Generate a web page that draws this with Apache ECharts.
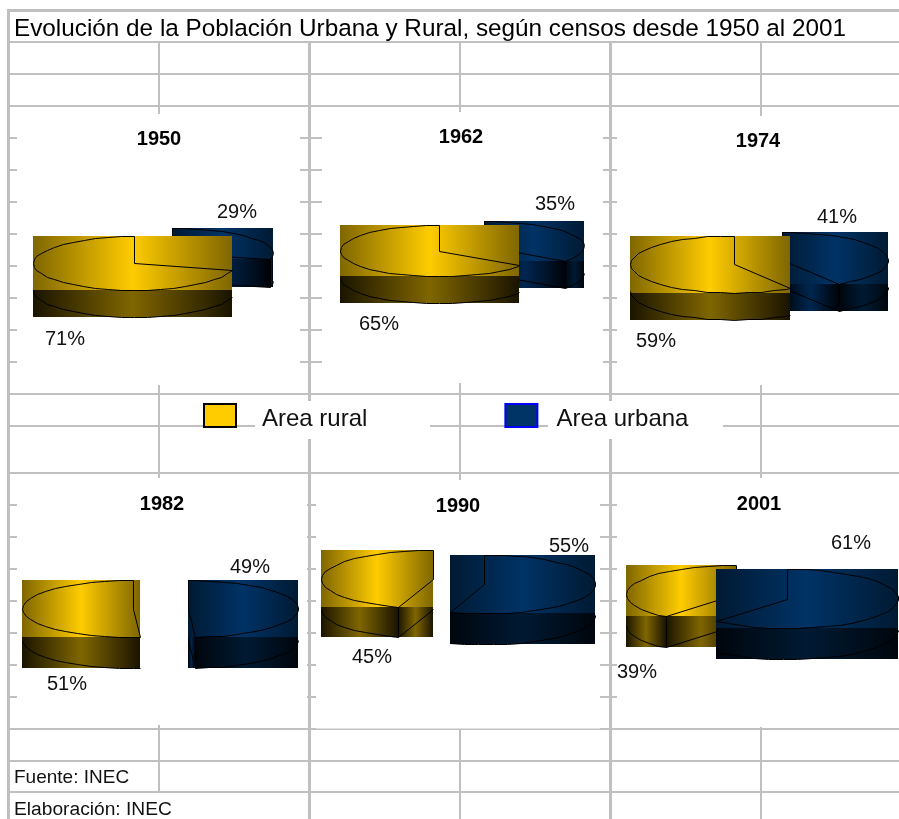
<!DOCTYPE html>
<html>
<head>
<meta charset="utf-8">
<style>html,body{margin:0;padding:0;background:#fff}#c{width:899px;height:819px}</style>
<script src="https://cdn.jsdelivr.net/npm/echarts@6/dist/echarts.min.js"></script>
</head>
<body>
<div id="c"></div>
<script>
// ---- data ----
const titleText = 'Evolución de la Población Urbana y Rural, según censos desde 1950 al 2001';
const years = ['1950', '1962', '1974', '1982', '1990', '2001'];
const ruralPct = [71, 65, 59, 51, 45, 39];
const urbanPct = [29, 35, 41, 49, 55, 61];
const seriesNames = ['Area rural', 'Area urbana'];
const footerLines = ['Fuente: INEC', 'Elaboración: INEC'];

// ---- layout (axis units), separate from the values ----
const ruralDisc = [
  {cx:134,cy:263,rx:101,ry:27,depth:27},
  {cx:439,cy:250.5,rx:99,ry:25.5,depth:27},
  {cx:734,cy:264,rx:104,ry:28.5,depth:27},
  {cx:133,cy:608.5,rx:111,ry:28.5,depth:31},
  {cx:433,cy:579,rx:112,ry:29,depth:30},
  {cx:736,cy:594,rx:110,ry:29,depth:31}
];
const urbanDisc = [
  {cx:172,cy:253,rx:101,ry:25,depth:28},
  {cx:484,cy:246,rx:100,ry:25,depth:27},
  {cx:782,cy:260,rx:106,ry:28,depth:27},
  {cx:188,cy:608.5,rx:110,ry:28.5,depth:31},
  {cx:484,cy:584,rx:111,ry:29.5,depth:31},
  {cx:787,cy:598.5,rx:111,ry:29.5,depth:31}
];
const yearLabelPos = [[159,139],[461,137],[758,141],[162,504],[458,506],[759,504]];
const ruralLabelPos = [[65,339],[379,324],[656,341],[67,684],[372,657],[637,672]];
const urbanLabelPos = [[237,212],[555,204],[837,217],[250,567],[569,546],[851,543]];
const ruralZ = [20,20,20,20,20,10];
const urbanZ = [10,10,10,10,10,20];

// ---- spreadsheet rules ----
const ruleColor = '#c0c0c0';
const rowLines = [41,73,105,137,169,201,233,265,297,329,361,393,425,472,504,536,568,600,632,664,696,728,760,791];
const colLines = [[7,3,9,819],[158,2,41,793],[308,3,41,819],[459,2,41,819],[609,3,41,819],[760,2,41,819]];
const panels = [[17,114,300,385],[322,112,603,383],[617,116,899,385],[17,478,307,725],[316,480,600,728.5],[617,478,899,727],[255,401,430,439],[548,401,723,439]];

const F = '"Liberation Sans", Arial, sans-serif';
const palette = {
  rural: {top:['#7f6600','#ffcc00'], side:['#1a1400','#806600'], cut:['#1a1400','#806600']},
  urban: {top:['#001a33','#003366'], side:['#00060d','#001a33'], cut:['#000308','#002650']}
};
function grad(pair){
  return {type:'linear',x:0,y:0,x2:1,y2:0,colorStops:[
    {offset:0,color:pair[0]},{offset:0.5,color:pair[1]},{offset:1,color:pair[0]}]};
}
function crisp(p){return [Math.round(p[0])+0.5,Math.round(p[1])+0.5];}

function makeRender(kind, discs, labelPos, zs, withYear){
  return function(params, api){
    const i = api.value(0), pct = api.value(1), f = pct/100;
    const d = discs[i], pal = palette[kind], z = zs[i];
    const pt = (deg,dy) => {
      const t = deg*Math.PI/180;
      return api.coord([d.cx+d.rx*Math.cos(t), d.cy-d.ry*Math.sin(t)+(dy||0)]);
    };
    const a1 = kind==='rural' ? 90 : 90-360*f;
    const a2 = kind==='rural' ? 90+360*f : 90;
    const apexDeg = kind==='rural' ? a2 : a1;
    const centre = api.coord([d.cx,d.cy]);
    const centreLow = api.coord([d.cx,d.cy+d.depth]);
    const arc = [];
    for(let a=a1;a<a2;a+=7.5) arc.push(pt(a));
    arc.push(pt(a2));
    const outline = [centre].concat(arc);
    const xs = outline.map(p=>p[0]), ys = outline.map(p=>p[1]);
    const L = Math.round(Math.min.apply(null,xs)), R = Math.round(Math.max.apply(null,xs));
    const T = Math.round(Math.min.apply(null,ys)), B = Math.round(Math.max.apply(null,ys));
    const kids = [];
    const rect = (x0,x1,y0,y1,pair,zz) => kids.push({type:'rect',z2:z+zz,
      shape:{x:x0,y:y0,width:Math.max(1,x1-x0),height:y1-y0},style:{fill:grad(pair)}});
    rect(L,R,T,B,pal.top,0);
    // lower visible part of the rim
    const lowStart = kind==='rural' ? 180 : Math.max(-180,a1);
    const lowEnd = kind==='rural' ? Math.min(360,a2) : 0;
    const low = [];
    for(let a=lowStart;a<lowEnd;a+=7.5) low.push(pt(a,d.depth));
    low.push(pt(lowEnd,d.depth));
    const lx = low.map(p=>p[0]), ly = low.map(p=>p[1]);
    rect(Math.round(Math.min.apply(null,lx)),Math.round(Math.max.apply(null,lx)),B,
         Math.round(Math.max.apply(null,ly)),pal.side,1);
    const lines = [];
    if(f<0.5){
      const apex = pt(apexDeg), apexLow = pt(apexDeg,d.depth);
      const x0 = Math.round(Math.min(centre[0],apex[0])), x1 = Math.round(Math.max(centre[0],apex[0]));
      rect(x0,x1,B,Math.round(Math.max(apexLow[1],centreLow[1])),pal.cut,1);
      lines.push([centreLow,apexLow]);
      lines.push([apex,apexLow]);
    }
    lines.push(low);
    kids.push({type:'polygon',z2:z+2,shape:{points:outline.map(crisp)},
      style:{fill:'none',stroke:'#000',lineWidth:1}});
    lines.forEach(l=>kids.push({type:'polyline',z2:z+2,shape:{points:l.map(crisp)},
      style:{fill:'none',stroke:'#000',lineWidth:1}}));
    const lp = api.coord(labelPos[i]);
    kids.push({type:'text',z2:40,style:{text:pct+'%',x:lp[0],y:lp[1],fill:'#111',
      font:'20px '+F,textAlign:'center',textVerticalAlign:'middle'}});
    if(withYear){
      const yp = api.coord(yearLabelPos[i]);
      kids.push({type:'text',z2:40,style:{text:years[i],x:yp[0],y:yp[1],fill:'#000',
        font:'bold 20px '+F,textAlign:'center',textVerticalAlign:'middle'}});
    }
    return {type:'group',children:kids};
  };
}

const bg = [{type:'rect',shape:{x:7,y:9,width:892,height:3},style:{fill:ruleColor},z:0}];
rowLines.forEach(y=>bg.push({type:'rect',shape:{x:7,y:y,width:892,height:2},style:{fill:ruleColor},z:0}));
colLines.forEach(c=>bg.push({type:'rect',shape:{x:c[0],y:c[2],width:c[1],height:c[3]-c[2]},style:{fill:ruleColor},z:0}));
panels.forEach(p=>bg.push({type:'rect',shape:{x:p[0],y:p[1],width:p[2]-p[0],height:p[3]-p[1]},style:{fill:'#fff'},z:1}));
bg.push({type:'text',z:1,style:{text:footerLines[0],x:14,y:778,fill:'#111',font:'19px '+F,textVerticalAlign:'middle'}});
bg.push({type:'text',z:1,style:{text:footerLines[1],x:14,y:810,fill:'#111',font:'19.2px '+F,textVerticalAlign:'middle'}});

const chart = echarts.init(document.getElementById('c'),null,{renderer:'canvas'});
chart.setOption({
  animation:false,
  backgroundColor:'#fff',
  title:{text:titleText,left:14,top:17,padding:0,textStyle:{fontFamily:F,fontSize:24.3,fontWeight:'normal',color:'#000'}},
  legend:{
    left:203,top:403,padding:0,itemWidth:32,itemHeight:23,itemGap:137,selectedMode:false,
    formatter:name => (name===seriesNames[0] ? '{a|' : '{b|') + name + '}',
    textStyle:{fontFamily:F,fontSize:24,color:'#111',rich:{
      a:{fontFamily:F,fontSize:24,color:'#111',padding:[8,0,0,21]},
      b:{fontFamily:F,fontSize:24,color:'#111',padding:[8,0,0,14]}
    }},
    data:[
      {name:seriesNames[0],icon:'rect',itemStyle:{color:'#ffcc00',borderColor:'#000',borderWidth:2}},
      {name:seriesNames[1],icon:'rect',itemStyle:{color:'#003366',borderColor:'#0000ff',borderWidth:2}}
    ]
  },
  grid:{left:0,right:0,top:0,bottom:0},
  xAxis:{type:'value',min:0,max:899,show:false},
  yAxis:{type:'value',min:0,max:819,inverse:true,show:false},
  graphic:{elements:bg},
  series:[
    {name:seriesNames[0],type:'custom',coordinateSystem:'cartesian2d',silent:true,clip:false,
     renderItem:makeRender('rural',ruralDisc,ruralLabelPos,ruralZ,true),
     data:years.map((y,i)=>[i,ruralPct[i]])},
    {name:seriesNames[1],type:'custom',coordinateSystem:'cartesian2d',silent:true,clip:false,
     renderItem:makeRender('urban',urbanDisc,urbanLabelPos,urbanZ,false),
     data:years.map((y,i)=>[i,urbanPct[i]])}
  ]
});
</script>
</body>
</html>
